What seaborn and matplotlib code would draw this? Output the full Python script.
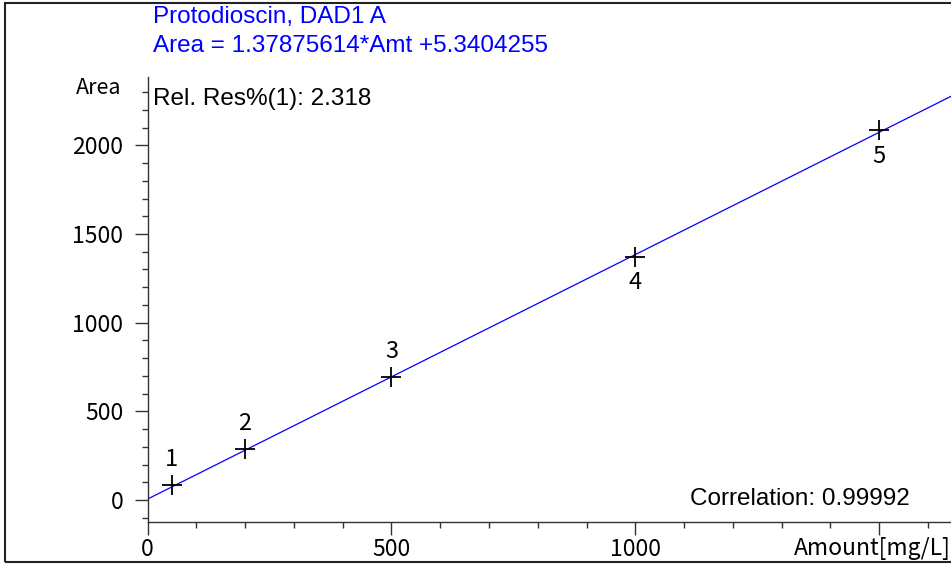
import numpy as np
import pandas as pd
import matplotlib
matplotlib.use('Agg')
import matplotlib.pyplot as plt
import matplotlib.patches as mpatches
import seaborn as sns

# calibration levels
levels = ['1', '2', '3', '4', '5']
amounts = [50, 200, 500, 1000, 1500]
areas = [84, 289, 694, 1373, 2088]
label_above = [True, True, True, False, False]

slope = 1.37875614
intercept = 5.3404255
fit_x = [0, 1700]

title_lines = ['Protodioscin, DAD1 A', 'Area = 1.37875614*Amt +5.3404255']
rel_res = 'Rel. Res%(1): 2.318'
corr_txt = 'Correlation: 0.99992'

sns.set_style('ticks')
plt.rcParams['font.family'] = ['Liberation Sans', 'DejaVu Sans']
plt.rcParams['text.color'] = 'black'
plt.rcParams['xtick.labelcolor'] = 'black'
plt.rcParams['ytick.labelcolor'] = 'black'
plt.rcParams['axes.labelcolor'] = 'black'
tick_font = ['Noto Sans CJK JP', 'DejaVu Sans']

df = pd.DataFrame({'level': levels, 'amount': amounts, 'area': areas})
fit = pd.DataFrame({'x': fit_x})
fit['y'] = slope * fit['x'] + intercept

fig = plt.figure(figsize=(9.51, 5.65), dpi=100)
ax = fig.add_axes([147.5 / 951, 43.3 / 565, 1 - 147.5 / 951, 444.7 / 565])

sns.lineplot(data=fit, x='x', y='y', color='#0000ff', linewidth=0.9, ax=ax)
sns.scatterplot(data=df, x='amount', y='area', marker='+', s=210, color='black',
                linewidth=1.3, ax=ax, zorder=3)

for _, r in df.iterrows():
    above = label_above[levels.index(r['level'])]
    ax.annotate(r['level'], (r['amount'], r['area']),
                xytext=(0, 18.5 if above else -19), textcoords='offset points',
                ha='center', va='center', fontsize=17, family=tick_font, color='black')

ax.set_xlim(0, 1647)
ax.set_ylim(-122, 2385)
ax.set_xticks([0, 500, 1000, 1500])
ax.set_xticklabels(['0', '500', '1000', ''])
ax.set_xticks(np.arange(0, 1700, 100), minor=True)
ax.set_yticks([0, 500, 1000, 1500, 2000])
ax.set_yticks(np.arange(-100, 2400, 100), minor=True)

for lab in ax.get_xticklabels() + ax.get_yticklabels():
    lab.set_family(tick_font)
    lab.set_fontsize(16.5)
    lab.set_color('black')

ax.tick_params(which='major', length=9.5, width=1, color='#333333', pad=2)
ax.tick_params(axis='y', which='major', pad=8)
ax.tick_params(which='minor', length=4.3, width=1, color='#333333')
for s in ['left', 'bottom']:
    ax.spines[s].set_color('#333333')
    ax.spines[s].set_linewidth(1)
sns.despine(ax=ax)

ax.set_xlabel('Amount[mg/L]', family=tick_font, fontsize=16.5, ha='right', va='center',
              color='black')
ax.xaxis.set_label_coords(1.0, -0.061)
ax.set_ylabel('Area', family=tick_font, fontsize=15.5, rotation=0, ha='right', va='center',
              color='black')
ax.yaxis.set_label_coords(-0.032, 0.975)

ax.text(0.007, 0.951, rel_res, transform=ax.transAxes, fontsize=17.5, ha='left',
        va='center', color='black')
ax.text(0.949, 0.051, corr_txt, transform=ax.transAxes, fontsize=17.5, ha='right',
        va='center', color='black')

fig.text(153 / 951, 1 - 17 / 565, title_lines[0], color='#0000ff', fontsize=17.5,
         ha='left', va='center')
fig.text(153 / 951, 1 - 46 / 565, title_lines[1], color='#0000ff', fontsize=17.5,
         ha='left', va='center')

fig.patches.append(mpatches.Rectangle((5 / 951, 3 / 565), 1.2, 559 / 565, fill=False,
                                      edgecolor='#222222', linewidth=1.5,
                                      transform=fig.transFigure, figure=fig))

fig.savefig('out.png', dpi=100)
